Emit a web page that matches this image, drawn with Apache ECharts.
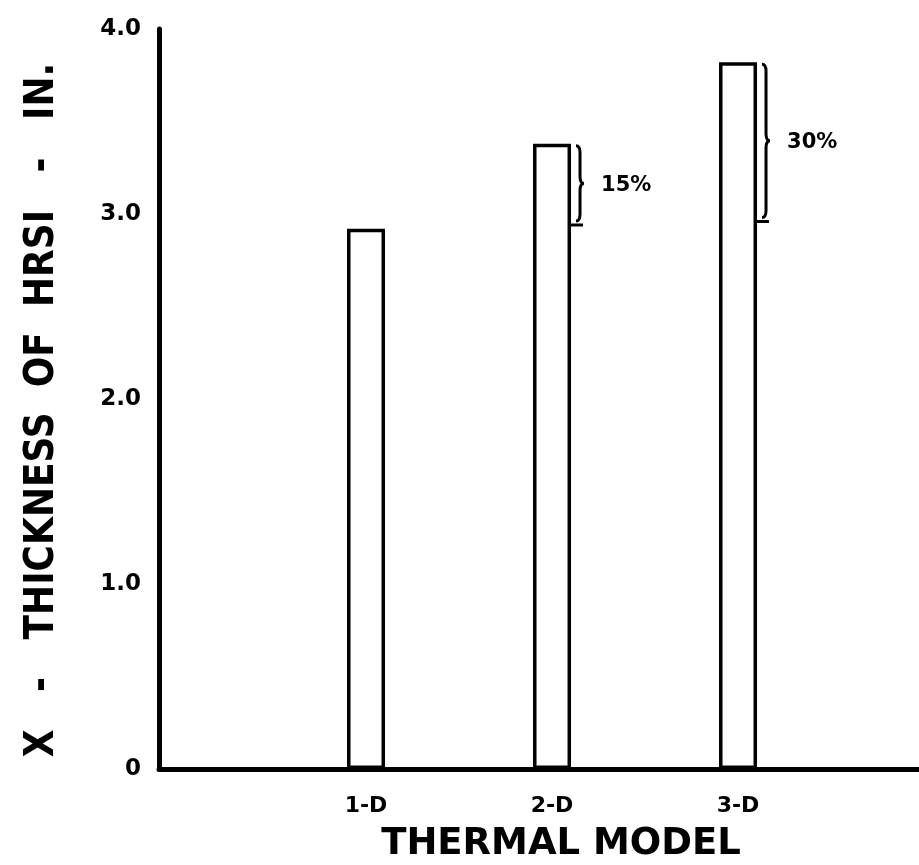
<!DOCTYPE html>
<html>
<head>
<meta charset="utf-8">
<script src="https://cdn.jsdelivr.net/npm/echarts@6/dist/echarts.min.js"></script>
<style>
html,body{margin:0;padding:0;background:#fff;}
#chart{width:919px;height:865px;}
</style>
</head>
<body>
<div id="chart"></div>
<script>
// ---- data ----
const categories = ['1-D', '2-D', '3-D'];
const categoryPos = [1, 2, 3];
const thickness = [2.92, 3.38, 3.82];          // inches
const increaseLabels = ['', '15%', '30%'];
const increaseBase = [null, 2.94, 2.96];        // bottom of each brace
const yTickValues = [0, 1, 2, 3, 4];
const yTickLabels = ['0', '1.0', '2.0', '3.0', '4.0'];
const yAxisTitle = 'X   -   THICKNESS  OF  HRSI   -   IN.';
const xAxisTitle = 'THERMAL MODEL';

const FONT = 'DejaVu Sans';
const barData = categoryPos.map((x, i) => [x, thickness[i]]);
const braceData = [];
categoryPos.forEach((x, i) => {
  if (increaseBase[i] != null) braceData.push([x, thickness[i], increaseBase[i], increaseLabels[i]]);
});

const chart = echarts.init(document.getElementById('chart'), null, {renderer: 'canvas'});
chart.setOption({
  backgroundColor: '#ffffff',
  animation: false,
  grid: {left: 159, right: 0, top: 29, bottom: 96, containLabel: false, outerBoundsMode: 'none'},
  xAxis: {
    type: 'value',
    min: -0.113,
    max: 3.973,
    splitLine: {show: false},
    axisTick: {show: false},
    axisLine: {show: true, lineStyle: {color: '#000', width: 5}},
    axisLabel: {
      margin: 26,
      color: '#000',
      fontFamily: FONT,
      fontWeight: 'bold',
      fontSize: 22,
      showMinLabel: false,
      showMaxLabel: false,
      formatter: function (v) {
        const idx = categoryPos.indexOf(Math.round(v * 1000) / 1000);
        return idx >= 0 ? categories[idx] : '';
      }
    },
    name: xAxisTitle,
    nameLocation: 'middle',
    nameGap: 57,
    nameTextStyle: {color: '#000', fontFamily: FONT, fontWeight: 'bold', fontSize: 37, padding: [0, 0, 0, 44]}
  },
  yAxis: {
    type: 'value',
    min: 0,
    max: 4,
    interval: 1,
    splitLine: {show: false},
    axisTick: {show: false},
    axisLine: {show: true, onZero: false, lineStyle: {color: '#000', width: 5, cap: 'round'}},
    axisLabel: {
      margin: 18,
      color: '#000',
      fontFamily: FONT,
      fontWeight: 'bold',
      fontSize: 23,
      formatter: function (v) {
        const idx = yTickValues.indexOf(v);
        return idx >= 0 ? yTickLabels[idx] : '';
      }
    },
    name: yAxisTitle,
    nameLocation: 'middle',
    nameRotate: 90,
    nameGap: 96,
    nameTextStyle: {color: '#000', fontFamily: 'DejaVu Sans Condensed', fontWeight: 'bold', fontSize: 40, padding: [0, 22, 0, 0]}
  },
  series: [
    {
      type: 'bar',
      data: barData,
      barWidth: 38,
      itemStyle: {color: '#ffffff', borderColor: '#000', borderWidth: 3.5},
      silent: true
    },
    {
      type: 'custom',
      data: braceData,
      silent: true,
      renderItem: function (params, api) {
        const x = api.value(0);
        const top = api.coord([x, api.value(1)]);
        const bot = api.coord([x, api.value(2)]);
        const x0 = top[0] + 27;
        const yT = top[1] + 2, yB = bot[1] - 4, mid = (yT + yB) / 2;
        const path =
          'M' + (x0 - 3) + ',' + yT +
          ' Q' + (x0 + 1) + ',' + yT + ' ' + (x0 + 1) + ',' + (yT + 7) +
          ' L' + (x0 + 1) + ',' + (mid - 7) +
          ' Q' + (x0 + 1) + ',' + mid + ' ' + (x0 + 5) + ',' + mid +
          ' Q' + (x0 + 1) + ',' + mid + ' ' + (x0 + 1) + ',' + (mid + 7) +
          ' L' + (x0 + 1) + ',' + (yB - 7) +
          ' Q' + (x0 + 1) + ',' + yB + ' ' + (x0 - 3) + ',' + yB +
          ' M' + (x0 - 10) + ',' + (bot[1]) + ' L' + (x0 + 4) + ',' + (bot[1]);
        return {
          type: 'group',
          children: [
            {type: 'path', shape: {pathData: path}, style: {fill: null, stroke: '#000', lineWidth: 3}},
            {type: 'text', x: x0 + 22, y: mid + 2, style: {
              text: api.value(3), fill: '#000', font: 'bold 21px "' + FONT + '"',
              verticalAlign: 'middle', align: 'left'}}
          ]
        };
      },
      encode: {x: 0, y: 1}
    }
  ]
});
</script>
</body>
</html>
